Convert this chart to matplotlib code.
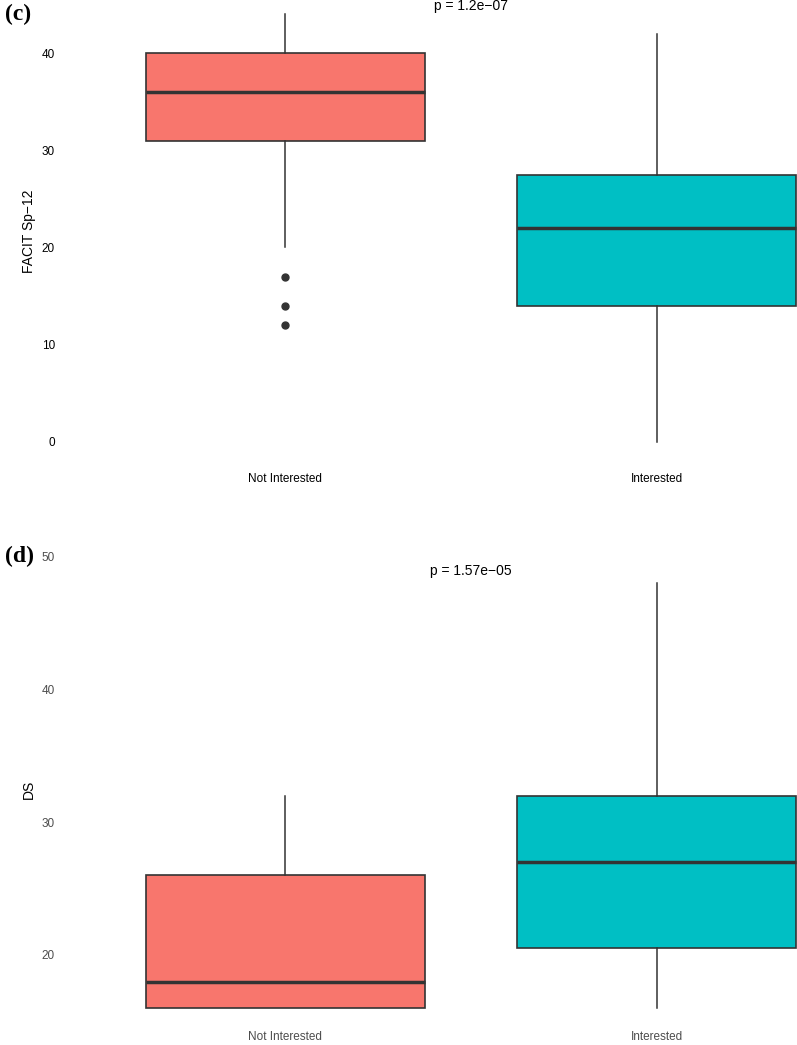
import matplotlib
matplotlib.use("Agg")
import matplotlib.pyplot as plt

# ----------- DATA -----------
groups = ["Not Interested", "Interested"]
box_colors = ["#F8766D", "#00BFC4"]

# panel (c) FACIT Sp-12
c_whislo = [20, 0]
c_q1 = [31, 14]
c_med = [36, 22]
c_q3 = [40, 27.5]
c_whishi = [44, 42]
c_fliers = [[17, 14, 12], []]
c_yticks = [0, 10, 20, 30, 40]
c_p = "p = 1.2e\u221207"

# panel (d) DS
d_whislo = [16, 16]
d_q1 = [16, 20.5]
d_med = [18, 27]
d_q3 = [26, 32]
d_whishi = [32, 48]
d_fliers = [[], []]
d_yticks = [20, 30, 40, 50]
d_p = "p = 1.57e\u221205"

W, H = 797, 1045
plt.rcParams['font.family'] = ['Liberation Sans', 'DejaVu Sans']
fig = plt.figure(figsize=(W / 100, H / 100), dpi=100)

def make_stats(whislo, q1, med, q3, whishi, fliers):
    return [dict(whislo=a, q1=b, med=c, q3=d, whishi=e, fliers=f)
            for a, b, c, d, e, f in zip(whislo, q1, med, q3, whishi, fliers)]

def panel(px_top, px_bot, ylim, stats, yticks, ylabel, ptxt, pval_y,
          tick_color, tag, tag_px, xpad):
    # axes spans beyond the right edge (figure is a crop)
    left_px, right_px = 62, 880
    ax = fig.add_axes([left_px / W, 1 - px_bot / H, (right_px - left_px) / W, (px_bot - px_top) / H])
    bp = ax.bxp(stats, positions=[1, 2], widths=0.75, patch_artist=True,
                showcaps=False,
                boxprops=dict(edgecolor="#333333", linewidth=1.2),
                medianprops=dict(color="#333333", linewidth=2.5),
                whiskerprops=dict(color="#333333", linewidth=1.1),
                flierprops=dict(marker="o", markerfacecolor="#333333",
                                markeredgecolor="#333333", markersize=5))
    for patch, col in zip(bp["boxes"], box_colors):
        patch.set_facecolor(col)
    ax.set_xlim(0.4, 2.6)
    ax.set_ylim(*ylim)
    ax.set_yticks(yticks)
    ax.set_xticks([1, 2])
    ax.set_xticklabels(groups)
    ax.tick_params(length=0, labelsize=8.5, labelcolor=tick_color)
    ax.tick_params(axis="y", pad=5)
    ax.tick_params(axis="x", pad=xpad)
    for s in ax.spines.values():
        s.set_visible(False)
    ax.set_ylabel(ylabel, fontsize=10, labelpad=4)
    ax.text(1.5, pval_y, ptxt, fontsize=10, ha="center", va="center")
    fig.text(5 / W, 1 - tag_px / H, tag, fontsize=17, fontweight="bold",
             family="Liberation Serif", va="center", ha="left")
    return ax

panel(0, 463, (-2.2, 45.47),
      make_stats(c_whislo, c_q1, c_med, c_q3, c_whishi, c_fliers),
      c_yticks, "FACIT Sp\u221212", c_p, 44.85, "black", "(c)", 14, 7)

panel(548, 1030, (14.35, 50.65),
      make_stats(d_whislo, d_q1, d_med, d_q3, d_whishi, d_fliers),
      d_yticks, "DS", d_p, 48.9, "#4D4D4D", "(d)", 556, 1)

fig.savefig("out.png", dpi=100)
